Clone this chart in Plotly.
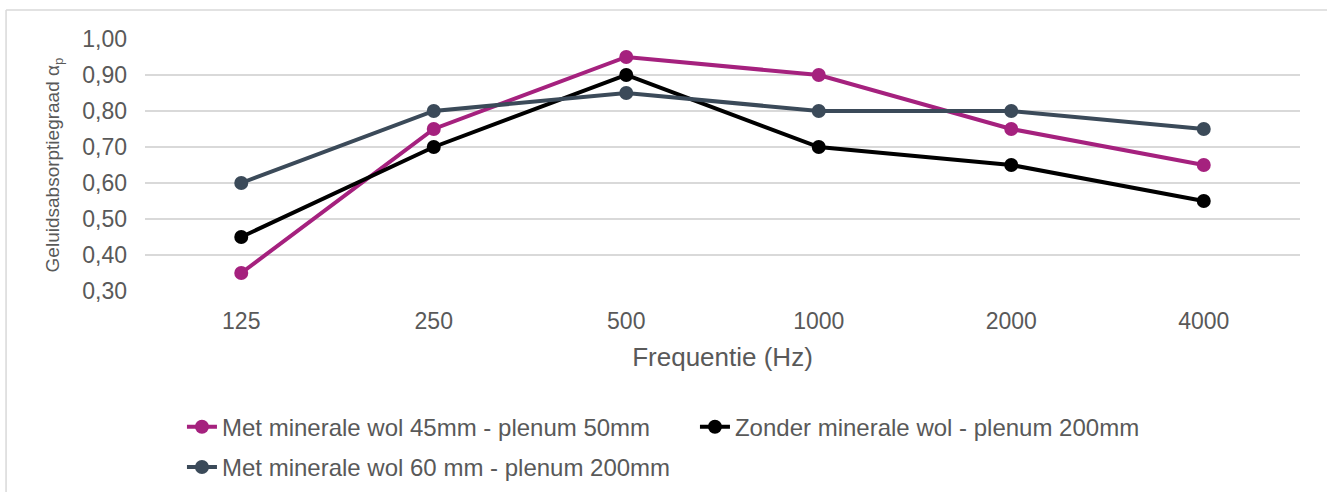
import plotly.graph_objects as go

categories = ["125", "250", "500", "1000", "2000", "4000"]
series_names = [
    "Met minerale wol 45mm - plenum 50mm",
    "Zonder minerale wol - plenum 200mm",
    "Met minerale wol 60 mm - plenum 200mm",
]
met_45_plenum_50 = [0.35, 0.75, 0.95, 0.90, 0.75, 0.65]
zonder_plenum_200 = [0.45, 0.70, 0.90, 0.70, 0.65, 0.55]
met_60_plenum_200 = [0.60, 0.80, 0.85, 0.80, 0.80, 0.75]
y_ticks = [0.30, 0.40, 0.50, 0.60, 0.70, 0.80, 0.90, 1.00]

colors = ["#A5217E", "#000000", "#3B4A59"]
values = [met_45_plenum_50, zonder_plenum_200, met_60_plenum_200]
legends = ["legend", "legend", "legend2"]

FONT = "Liberation Sans, Arial, sans-serif"
TXT = "#595959"

fig = go.Figure()
for name, vals, col, lg in zip(series_names, values, colors, legends):
    fig.add_trace(go.Scatter(
        x=categories, y=vals, name=name, mode="lines+markers",
        line=dict(color=col, width=4),
        marker=dict(color=col, size=14),
        legend=lg,
    ))

fig.update_layout(
    width=1327, height=492,
    margin=dict(l=145, r=27, t=39, b=201, autoexpand=False),
    paper_bgcolor="white", plot_bgcolor="white",
    separators=",.",
    font=dict(family=FONT, color=TXT, size=23),
    legend=dict(orientation="h", x=0.032, y=-0.54, xanchor="left", yanchor="middle",
                font=dict(size=24, color=TXT, family=FONT), bgcolor="rgba(0,0,0,0)",
                entrywidth=468, entrywidthmode="pixels"),
    legend2=dict(orientation="h", x=0.032, y=-0.70, xanchor="left", yanchor="middle",
                 font=dict(size=24, color=TXT, family=FONT), bgcolor="rgba(0,0,0,0)"),
    shapes=[
        dict(type="line", xref="paper", yref="paper", x0=-0.1203, x1=1.1, y0=1.115, y1=1.115,
             line=dict(color="#D9D9D9", width=1.5)),
        dict(type="line", xref="paper", yref="paper", x0=-0.1203, x1=-0.1203, y0=1.115, y1=-1.0,
             line=dict(color="#D9D9D9", width=1.5)),
    ],
)

fig.update_xaxes(
    type="category", range=[-0.5, 5.5], showgrid=False, showline=False, zeroline=False,
    tickfont=dict(size=23, color=TXT), ticks="", ticklabelstandoff=14,
    title=dict(text="Frequentie (Hz)", font=dict(size=26, color=TXT), standoff=14),
)
fig.update_yaxes(
    range=[0.30, 1.00], tickvals=y_ticks, tickformat=".2f",
    showgrid=True, gridcolor="#D9D9D9", gridwidth=1.5, zeroline=False, showline=False,
    tickfont=dict(size=23, color=TXT), ticks="", ticklabelstandoff=17,
    title=dict(text="Geluidsabsorptiegraad α<sub>p</sub>", font=dict(size=19, color=TXT), standoff=17),
)

fig.write_html("out.html", config={"displayModeBar": False},
               post_script="document.body.style.margin='0';")
